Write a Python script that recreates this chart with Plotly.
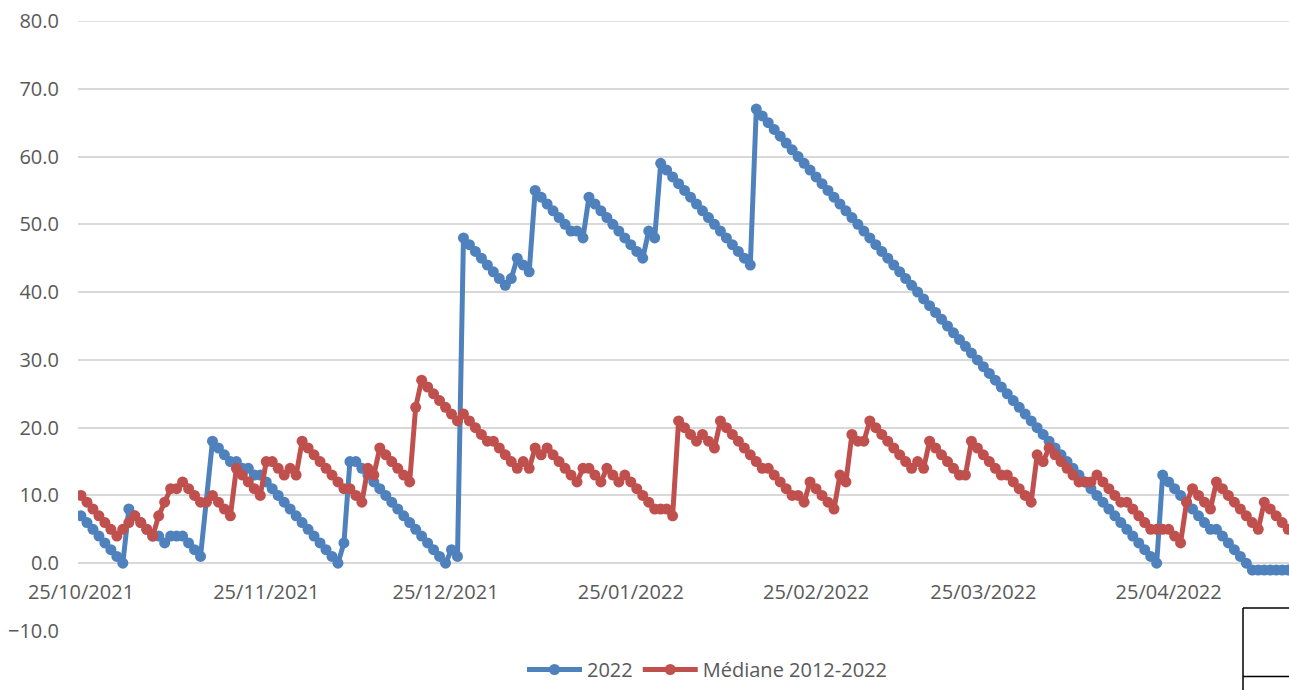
import pandas as pd
import plotly.graph_objects as go

# ---------------- data (daily values) ----------------
start_date = "2021-10-25"

series_2022 = [
    7, 6, 5, 4, 3, 2, 1, 0,
    8, 7, 6, 5, 4, 4, 3, 4, 4, 4, 3, 2, 1,
    None,
    18, 17, 16, 15, 15, 14, 14, 13, 13, 12, 11, 10, 9, 8, 7, 6, 5, 4, 3, 2, 1, 0,
    3, 15, 15, 14, 13, 12, 11, 10, 9, 8, 7, 6, 5, 4, 3, 2, 1, 0, 2, 1,
    48, 47, 46, 45, 44, 43, 42, 41,
    42, 45, 44, 43,
    55, 54, 53, 52, 51, 50, 49,
    49, 48,
    54, 53, 52, 51, 50, 49, 48, 47, 46, 45,
    49, 48,
    59, 58, 57, 56, 55, 54, 53, 52, 51, 50, 49, 48, 47, 46, 45, 44,
    67, 66, 65, 64, 63, 62, 61, 60, 59, 58, 57, 56, 55, 54, 53, 52, 51, 50,
    49, 48, 47, 46, 45, 44, 43, 42, 41, 40, 39, 38, 37, 36, 35, 34, 33, 32,
    31, 30, 29, 28, 27, 26, 25, 24, 23, 22, 21, 20, 19, 18, 17, 16, 15, 14,
    13, 12, 11, 10, 9, 8, 7, 6, 5, 4, 3, 2, 1, 0,
    13, 12, 11, 10, 9, 8, 7, 6, 5, 5, 4, 3, 2, 1, 0,
    -1, -1, -1, -1, -1, -1, -1,
]

series_median = [
    10, 9, 8, 7, 6, 5, 4,
    5, 6, 7, 6, 5, 4,
    7, 9, 11, 11, 12,
    11, 10, 9, 9, 10, 9, 8, 7,
    14, 13, 12, 11, 10,
    15, 15, 14, 13, 14, 13,
    18, 17, 16, 15, 14, 13, 12, 11, 11, 10, 9,
    14, 13,
    17, 16, 15, 14, 13, 12,
    23,
    27, 26, 25, 24, 23, 22, 21,
    22, 21, 20, 19, 18, 18,
    17, 16, 15, 14,
    15, 14,
    17, 16, 17,
    16, 15, 14, 13, 12,
    14, 14, 13, 12,
    14, 13, 12, 13,
    12, 11, 10, 9, 8,
    8, 8, 7,
    21, 20, 19, 18,
    19, 18, 17,
    21, 20, 19, 18, 17, 16, 15,
    14, 14, 13, 12, 11, 10, 10, 9,
    12, 11, 10, 9, 8,
    13, 12,
    19, 18, 18,
    21, 20, 19, 18, 17, 16, 15, 14,
    15, 14,
    18, 17, 16, 15, 14, 13,
    13,
    18, 17, 16, 15, 14, 13, 13, 12, 11, 10, 9,
    16, 15,
    17, 16, 15, 14, 13, 12, 12, 12,
    13, 12, 11, 10, 9, 9, 8, 7, 6, 5,
    5, 5, 5, 4, 3,
    9, 11, 10, 9, 8,
    12, 11, 10, 9, 8, 7, 6, 5,
    9, 8, 7, 6, 5,
]

series_names = ["2022", "Médiane 2012-2022"]
tick_dates = ["2021-10-25", "2021-11-25", "2021-12-25", "2022-01-25",
              "2022-02-25", "2022-03-25", "2022-04-25"]
tick_labels = ["25/10/2021", "25/11/2021", "25/12/2021", "25/01/2022",
               "25/02/2022", "25/03/2022", "25/04/2022"]
y_ticks = [-10, 0, 10, 20, 30, 40, 50, 60, 70, 80]

# ---------------- figure ----------------
dates = pd.date_range(start_date, periods=len(series_median), freq="D")

BLUE = "#4F81BD"
RED = "#C0504D"
GRID = "#D9D9D9"
TXT = "#595959"
FONT = "Open Sans"

fig = go.Figure()
fig.add_trace(go.Scatter(
    x=dates, y=series_2022, name=series_names[0], mode="lines+markers",
    connectgaps=True,
    line=dict(color=BLUE, width=5),
    marker=dict(color=BLUE, size=11),
))
fig.add_trace(go.Scatter(
    x=dates, y=series_median, name=series_names[1], mode="lines+markers",
    line=dict(color=RED, width=5),
    marker=dict(color=RED, size=11),
))

W, H = 1289, 690
ML, MR, MT, MB = 78, 0, 21, 59
plot_w = W - ML - MR
plot_h = H - MT - MB
px_per_day = 5.976
t0 = pd.Timestamp(start_date)
x_start = t0 - pd.Timedelta(days=(81 - ML) / px_per_day)
x_end = x_start + pd.Timedelta(days=plot_w / px_per_day)

y_min, y_max = -10, 80
zero_pos = (0 - y_min) / (y_max - y_min)


def px_x(v):
    return (v - ML) / plot_w


def px_y(v):
    return (H - MB - v) / plot_h


fig.update_layout(
    width=W, height=H,
    margin=dict(l=ML, r=MR, t=MT, b=MB, autoexpand=False),
    paper_bgcolor="white", plot_bgcolor="white",
    font=dict(family=FONT, color=TXT, size=20),
    showlegend=True,
    legend=dict(
        orientation="h", x=px_x(707), xanchor="center",
        y=px_y(689), yanchor="bottom",
        font=dict(family=FONT, size=20, color=TXT),
        itemwidth=55, bgcolor="rgba(0,0,0,0)", borderwidth=0,
    ),
    xaxis=dict(
        type="date", range=[x_start, x_end],
        tickmode="array", tickvals=tick_dates, ticktext=tick_labels,
        showgrid=False, zeroline=False, showline=False, ticks="",
        anchor="free", position=zero_pos,
        ticklabelstandoff=15,
        tickfont=dict(family=FONT, size=20, color=TXT),
    ),
    yaxis=dict(
        range=[y_min, y_max], tickmode="array", tickvals=y_ticks,
        tickformat=".1f", showgrid=True, gridcolor=GRID, gridwidth=1.5,
        zeroline=True, zerolinecolor=GRID, zerolinewidth=1.5,
        showline=False, ticks="", ticklabelstandoff=18,
        tickfont=dict(family=FONT, size=20, color=TXT),
    ),
)

# top gridline (at the very edge of the plotting area)
fig.add_shape(type="line", xref="paper", yref="y", layer="below",
              x0=0, x1=1, y0=y_max, y1=y_max,
              line=dict(color=GRID, width=1.5))

# table-cell border fragments visible at the bottom right of the picture
fig.add_shape(type="line", xref="paper", yref="paper",
              x0=px_x(1243), x1=px_x(1243), y0=px_y(608), y1=px_y(692),
              line=dict(color="black", width=1.5))
fig.add_shape(type="line", xref="paper", yref="paper",
              x0=px_x(1243), x1=px_x(1292), y0=px_y(608), y1=px_y(608),
              line=dict(color="black", width=1.5))
fig.add_shape(type="line", xref="paper", yref="paper",
              x0=px_x(1243), x1=px_x(1292), y0=px_y(676.5), y1=px_y(676.5),
              line=dict(color="black", width=1.5))

fig.write_html(
    "out.html",
    config={"displayModeBar": False},
    post_script="document.body.style.margin='0';document.body.style.overflow='hidden';",
)
